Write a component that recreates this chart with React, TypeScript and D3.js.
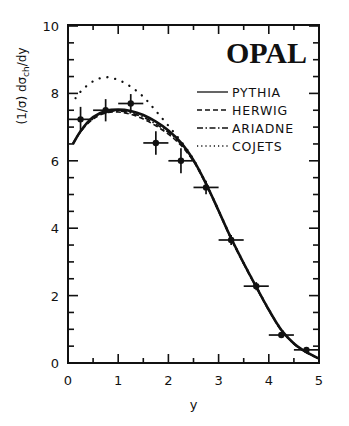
import * as d3 from "d3";

// measured points (y = rapidity, value = (1/σ) dσch/dy)
const dataY = [0.25, 0.75, 1.25, 1.75, 2.25, 2.75, 3.25, 3.75, 4.25, 4.75];
const dataV = [7.23, 7.5, 7.7, 6.53, 6.0, 5.21, 3.65, 2.28, 0.83, 0.39];
const dataErr = [0.37, 0.33, 0.28, 0.35, 0.37, 0.2, 0.15, 0.12, 0.08, 0.05];
const binHalf = 0.25;

// model curves
const modelX = [0.1, 0.25, 0.5, 0.75, 1.0, 1.25, 1.5, 1.75, 2.0, 2.25, 2.5, 2.75, 3.0, 3.25, 3.5, 3.75, 4.0, 4.25, 4.5, 4.75, 5.0];
const pythiaV = [6.5, 6.88, 7.3, 7.48, 7.52, 7.48, 7.36, 7.16, 6.9, 6.54, 6.02, 5.32, 4.52, 3.7, 2.96, 2.26, 1.58, 0.98, 0.58, 0.32, 0.13];
const herwigV = [6.52, 6.86, 7.24, 7.42, 7.45, 7.38, 7.24, 7.04, 6.79, 6.46, 5.98, 5.3, 4.5, 3.68, 2.94, 2.24, 1.56, 0.97, 0.57, 0.31, 0.13];
const ariadneV = [6.5, 6.87, 7.27, 7.45, 7.48, 7.42, 7.29, 7.09, 6.84, 6.5, 6.0, 5.31, 4.51, 3.69, 2.95, 2.25, 1.57, 0.97, 0.57, 0.31, 0.13];
const cojetsX = [0.15, 0.25, 0.5, 0.75, 1.0, 1.25, 1.5, 1.75, 2.0, 2.25, 2.5, 2.75, 3.0, 3.25, 3.5, 3.75, 4.0, 4.25, 4.5, 4.75, 5.0];
const cojetsV = [7.86, 8.05, 8.36, 8.48, 8.4, 8.2, 7.9, 7.48, 7.04, 6.58, 6.04, 5.33, 4.53, 3.71, 2.97, 2.27, 1.59, 0.99, 0.58, 0.32, 0.13];

const xTicks = [0, 1, 2, 3, 4, 5];
const yTicks = [0, 2, 4, 6, 8, 10];
const legendNames = ["PYTHIA", "HERWIG", "ARIADNE", "COJETS"];
const legendDash = ["none", "5,3", "6,2.5,1.5,2.5", "1.2,3"];

const W = 349;
const H = 426;
const margin = { left: 68, right: 30, top: 25, bottom: 63 };

export default function App() {
  const x = d3.scaleLinear().domain([0, 5]).range([margin.left, W - margin.right]);
  const y = d3.scaleLinear().domain([0, 10]).range([H - margin.bottom, margin.top + 1]);

  const line = d3
    .line<[number, number]>()
    .x((d) => x(d[0]))
    .y((d) => y(d[1]))
    .curve(d3.curveCatmullRom.alpha(0.5));

  const curves = [
    { pts: modelX.map((v, i) => [v, pythiaV[i]] as [number, number]), dash: "none", w: 2.6, cap: "butt" },
    { pts: modelX.map((v, i) => [v, herwigV[i]] as [number, number]), dash: "5,3", w: 1.6, cap: "butt" },
    { pts: modelX.map((v, i) => [v, ariadneV[i]] as [number, number]), dash: "6,2.5,1.5,2.5", w: 1.6, cap: "butt" },
    { pts: cojetsX.map((v, i) => [v, cojetsV[i]] as [number, number]), dash: "0.1,7.8", w: 2.3, cap: "round" },
  ];

  const x0 = x(0), x1 = x(5), y0 = y(0), y1 = y(10) - 1;
  const xMinor = d3.range(0, 5.01, 0.5);
  const yMinor = d3.range(0, 10.01, 0.5);
  const font = "'DejaVu Sans', sans-serif";

  return (
    <svg width={W} height={H} style={{ position: "absolute", left: 0, top: 0, background: "#fff" }}>
      {/* curves */}
      <g fill="none" stroke="#111">
        {curves.map((c, i) => (
          <path key={i} d={line(c.pts) || ""} strokeWidth={c.w} strokeDasharray={c.dash} strokeLinecap={c.cap as any} />
        ))}
      </g>

      {/* data points */}
      <g stroke="#111" fill="#111">
        {dataY.map((d, i) => (
          <g key={i}>
            <line x1={x(d - binHalf)} x2={x(d + binHalf)} y1={y(dataV[i])} y2={y(dataV[i])} strokeWidth={1.7} />
            <line x1={x(d)} x2={x(d)} y1={y(dataV[i] - dataErr[i])} y2={y(dataV[i] + dataErr[i])} strokeWidth={1.7} />
            <circle cx={x(d)} cy={y(dataV[i])} r={3.2} stroke="none" />
          </g>
        ))}
      </g>

      {/* frame */}
      <rect x={x0} y={y1} width={x1 - x0} height={y0 - y1} fill="none" stroke="#111" strokeWidth={2} />

      {/* ticks */}
      <g stroke="#111" strokeWidth={1.6}>
        {xMinor.map((t) => {
          const major = Math.abs(t - Math.round(t)) < 1e-6;
          const len = major ? 9 : 5;
          return (
            <g key={"x" + t}>
              <line x1={x(t)} x2={x(t)} y1={y0} y2={y0 - len} />
              <line x1={x(t)} x2={x(t)} y1={y1} y2={y1 + len} />
            </g>
          );
        })}
        {yMinor.map((t) => {
          const major = Math.abs(t / 2 - Math.round(t / 2)) < 1e-6;
          const len = major ? 10 : 6;
          return (
            <g key={"y" + t}>
              <line x1={x0} x2={x0 + len} y1={y(t)} y2={y(t)} />
              <line x1={x1} x2={x1 - len} y1={y(t)} y2={y(t)} />
            </g>
          );
        })}
      </g>

      {/* tick labels */}
      <g fontFamily={font} fontSize={13} fill="#111">
        {xTicks.map((t) => (
          <text key={"xl" + t} x={x(t)} y={y0 + 22} textAnchor="middle">{t}</text>
        ))}
        {yTicks.map((t) => (
          <text key={"yl" + t} x={x0 - 9} y={y(t) + 5} textAnchor="end">{t}</text>
        ))}
        <text x={(x0 + x1) / 2} y={y0 + 46} textAnchor="middle">y</text>
      </g>

      {/* y label */}
      <text
        transform={`translate(26,86) rotate(-90)`}
        textAnchor="middle"
        fontFamily={font}
        fontSize={12}
        fill="#111"
      >
        (1/σ) dσ<tspan fontSize={9} dy={3}>ch</tspan><tspan dy={-3}>/dy</tspan>
      </text>

      {/* OPAL */}
      <text x={x1 - 12} y={63} textAnchor="end" fontFamily="'Liberation Serif', serif" fontWeight="bold" fontSize={30} fill="#111">
        OPAL
      </text>

      {/* legend */}
      <g fontFamily={font} fontSize={12.5} fill="#111">
        {legendNames.map((n, i) => {
          const ly = 92 + i * 18;
          return (
            <g key={n}>
              <line x1={197} x2={228} y1={ly} y2={ly} stroke="#111" strokeWidth={1.3} strokeDasharray={legendDash[i]} />
              <text x={232} y={ly + 4.5} letterSpacing={0.8}>{n}</text>
            </g>
          );
        })}
      </g>
    </svg>
  );
}
